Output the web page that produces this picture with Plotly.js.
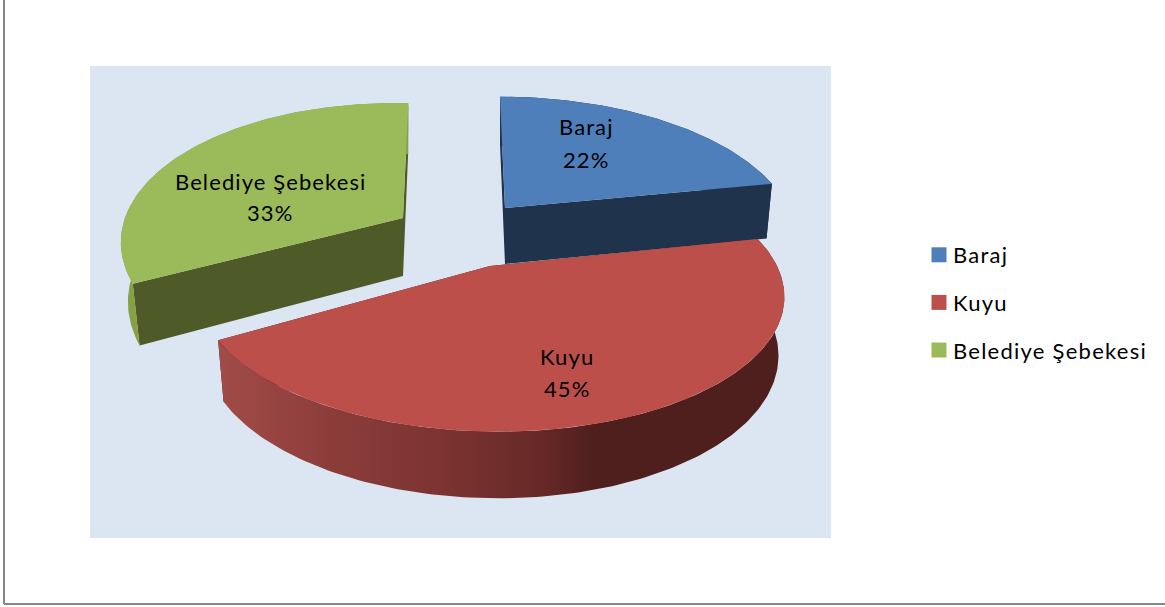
<!DOCTYPE html>
<html><head><meta charset="utf-8">
<script src="https://cdn.plot.ly/plotly-3.0.1.min.js"></script>
<style>
html,body{margin:0;padding:0;background:#fff;overflow:hidden}
.legendtext{letter-spacing:1.25px}
.annotation-text{letter-spacing:1.1px}
</style></head>
<body><div id="chart" style="width:1165px;height:607px"></div>
<script>
// Data
const categories = ['Baraj', 'Kuyu', 'Belediye Şebekesi'];
const shares = [22, 45, 33];

// Colours
const topColors = ['#4f7fba', '#bd4f4b', '#9bba59'];
const cutColors = ['#1f334d', '#4f1f1e', '#4e5a28'];
const wallColors = ['#1f334d', '#4f1f1e', '#86a046'];

// Geometry of the drawn 3D pie (page pixels as axis units)
const W = 1165, H = 607;
const geo = [
  {cx: 505, cy: 208, A: 283, B: 133.6, k: .2, D: 56, shear: .045, rot: 0, floor: .98},
  {cx: 490, cy: 266, A: 287, B: 132.5, k: .2, D: 57, shear: .05, rot: -1.5, floor: .98},
  {cx: 403, cy: 218, A: 278, B: 138, k: .2, D: 58, shear: .06, rot: 3, floor: .975}
];

function proj(g, deg, rim, low) {
  const t = (deg + g.rot) * Math.PI / 180, u = rim * Math.sin(t), v = rim * Math.cos(t);
  const s = 1 / (1 + g.k * v);
  const dy = -g.B * v * s;
  const x = g.A * u * s + g.shear * dy;
  return low ? [g.cx + x * g.floor, g.cy + dy + g.D * Math.pow(s, .7)]
             : [g.cx + x, g.cy + dy];
}
function arc(g, a, b, low) {
  const pts = [], n = Math.max(2, Math.ceil(Math.abs(b - a)));
  for (let i = 0; i <= n; i++) pts.push(proj(g, a + (b - a) * i / n, 1, low));
  return pts;
}
function poly(pts, color, extra) {
  const xs = pts.map(p => p[0]), ys = pts.map(p => p[1]);
  xs.push(xs[0]); ys.push(ys[0]);
  return Object.assign({
    type: 'scatter', mode: 'lines', x: xs, y: ys, fill: 'toself', fillcolor: color,
    line: {width: 0, color: color}, showlegend: false, hoverinfo: 'skip'
  }, extra || {});
}

const total = shares.reduce((a, b) => a + b, 0);
const traces = [];
const topTraces = [];
let angle = 0;
shares.forEach((val, i) => {
  const g = geo[i], a = angle, b = angle + val / total * 360;
  angle = b;
  // cut faces, as seen through the gap
  traces.push(poly([proj(g, a, 0, false), proj(g, a, 1, false), proj(g, a, 1, true), proj(g, a, 0, true)], cutColors[i]));
  traces.push(poly([proj(g, b, 0, false), proj(g, b, 1, false), proj(g, b, 1, true), proj(g, b, 0, true)], cutColors[i]));
  // outer wall
  const wall = arc(g, a, b, false).concat(arc(g, a, b, true).reverse());
  if (i === 1) {
    traces.push(poly(wall, '#4f1f1e', {fillgradient: {
      type: 'horizontal', start: 215, stop: 785,
      colorscale: [[0, '#a34c49'], [.2, '#8c3d3a'], [.42, '#7a3230'], [.58, '#652826'], [.66, '#4f1f1e'], [1, '#4f1f1e']]
    }}));
  } else {
    traces.push(poly(wall, wallColors[i]));
  }
  topTraces.push(poly([proj(g, a, 0, false)].concat(arc(g, a, b, false)), topColors[i], {name: categories[i]}));
});
traces.push(...topTraces);

// Legend keys
categories.forEach((c, i) => traces.push({
  type: 'scatter', mode: 'markers', name: c, x: [null], y: [null], legendgroup: c,
  marker: {symbol: 'square', size: 15, color: topColors[i]}, hoverinfo: 'skip'
}));

const labelPos = [[586, 126, 159], [567, 356, 388], [270, 181, 212]];
const labelFont = {family: 'Lato', size: 22, color: '#000'};
const annotations = [];
categories.forEach((c, i) => {
  annotations.push({x: labelPos[i][0], y: labelPos[i][1], xref: 'x', yref: 'y', showarrow: false, text: c, font: labelFont});
  annotations.push({x: labelPos[i][0], y: labelPos[i][2], xref: 'x', yref: 'y', showarrow: false, text: shares[i] + '%', font: labelFont});
});

const layout = {
  width: W, height: H,
  margin: {l: 0, r: 0, t: 0, b: 0},
  paper_bgcolor: '#fff', plot_bgcolor: 'rgba(0,0,0,0)',
  xaxis: {range: [0, W], visible: false, fixedrange: true},
  yaxis: {range: [H, 0], visible: false, fixedrange: true},
  font: {family: 'Lato', size: 22, color: '#000'},
  showlegend: true,
  legend: {
    x: 913 / W, y: 1 - 234 / H, xanchor: 'left', yanchor: 'top',
    bgcolor: 'rgba(0,0,0,0)', traceorder: 'grouped', tracegroupgap: 16
  },
  annotations,
  shapes: [
    {type: 'rect', xref: 'x', yref: 'y', x0: 90, x1: 831, y0: 66, y1: 538, fillcolor: '#dce6f2', line: {width: 0}, layer: 'below'},
    {type: 'line', xref: 'x', yref: 'y', x0: 4, x1: 4, y0: 0, y1: 604, line: {color: '#868686', width: 2}, layer: 'below'},
    {type: 'line', xref: 'x', yref: 'y', x0: 4, x1: W, y0: 604, y1: 604, line: {color: '#868686', width: 2}, layer: 'below'}
  ]
};

Plotly.newPlot('chart', traces, layout, {displayModeBar: false, staticPlot: true}).then(() => {
  document.querySelectorAll('#chart .legendpoints').forEach(n => {
    n.setAttribute('transform', 'translate(6,0)');
  });
});
</script></body></html>
